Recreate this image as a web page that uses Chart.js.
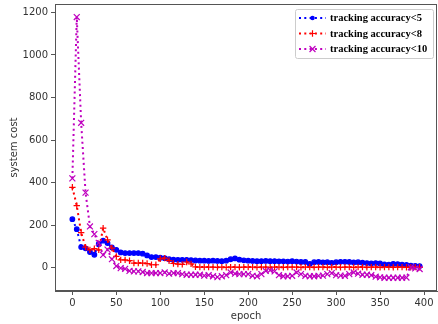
<!DOCTYPE html>
<html>
<head>
<meta charset="utf-8">
<script src="https://cdn.jsdelivr.net/npm/chart.js@4.4.1/dist/chart.umd.min.js"></script>
<style>
  html, body { margin: 0; padding: 0; background: #fff; overflow: hidden; }
  #chart { display: block; }
</style>
</head>
<body>
<canvas id="chart" width="438" height="324"></canvas>
<script>
const epochs = [
  0, 5, 10, 15, 20, 25, 30, 35, 40, 45,
  50, 55, 60, 65, 70, 75, 80, 85, 90, 95,
  100, 105, 110, 115, 120, 125, 130, 135, 140, 145,
  150, 155, 160, 165, 170, 175, 180, 185, 190, 195,
  200, 205, 210, 215, 220, 225, 230, 235, 240, 245,
  250, 255, 260, 265, 270, 275, 280, 285, 290, 295,
  300, 305, 310, 315, 320, 325, 330, 335, 340, 345,
  350, 355, 360, 365, 370, 375, 380, 385, 390, 395,
];

const acc5 = [
  228, 181, 97, 91, 74, 61, 112, 127, 116, 95,
  84, 72, 69, 69, 69, 69, 66, 58, 50, 50,
  47, 45, 40, 38, 37, 37, 37, 36, 34, 33,
  33, 32, 33, 32, 31, 33, 40, 44, 38, 35,
  33, 32, 31, 31, 32, 31, 31, 30, 30, 29,
  31, 29, 27, 27, 18, 26, 27, 25, 26, 23,
  26, 28, 28, 27, 25, 26, 24, 22, 20, 22,
  20, 16, 15, 18, 17, 15, 13, 10, 9, 8,
];

const acc8 = [
  378, 292, 165, 97, 84, 90, 84, 186, 131, 92,
  53, 37, 37, 33, 22, 22, 22, 20, 14, 14,
  42, 45, 33, 20, 17, 16, 27, 18, 4, 3,
  3, 3, 3, 2, 3, 2, 3, 3, 2, 3,
  3, 3, 2, 3, 3, 2, 3, 3, 2, 3,
  3, 3, 2, 3, 3, 2, 3, 3, 2, 3,
  3, 2, 3, 3, 2, 3, 3, 2, 3, 3,
  2, 3, 3, 2, 3, 3, 2, 3, 3, 2,
];

const acc10 = [
  420, 1178, 681, 353, 194, 158, 117, 60, 85, 40,
  8, -2, -5, -15, -17, -17, -20, -25, -25, -25,
  -25, -22, -28, -25, -25, -30, -33, -33, -33, -33,
  -37, -35, -40, -44, -40, -35, -22, -28, -30, -30,
  -30, -38, -40, -30, -15, -12, -17, -35, -40, -40,
  -38, -22, -30, -38, -40, -40, -38, -37, -30, -25,
  -35, -37, -38, -30, -22, -28, -33, -33, -35, -42,
  -45, -47, -47, -47, -47, -47, -46, 2, -3, -6,
];

const seriesLabels = ["tracking accuracy<5", "tracking accuracy<8", "tracking accuracy<10"];
const xTicks = [0, 50, 100, 150, 200, 250, 300, 350, 400];
const yTicks = [0, 200, 400, 600, 800, 1000, 1200];

const styles = [
  { color: "#0000ff", pointStyle: "circle", radius: 2.3 },
  { color: "#ff0000", pointStyle: "cross", radius: 3.2 },
  { color: "#bf00bf", pointStyle: "crossRot", radius: 4.2 },
];

function toPoints(values) {
  return epochs.map((e, i) => ({ x: e, y: values[i] }));
}

function makeDataset(label, values, style, order) {
  return {
    label,
    data: toPoints(values),
    borderColor: style.color,
    backgroundColor: style.color,
    borderWidth: 2,
    borderDash: [2, 3.3],
    tension: 0,
    pointStyle: style.pointStyle,
    pointRadius: style.radius,
    pointBorderWidth: 1.2,
    pointBorderColor: style.color,
    pointBackgroundColor: style.color,
    order,
  };
}

// frame around plot area + boxed legend, matplotlib style
const framePlugin = {
  id: "frame",
  afterDraw(chart) {
    const { ctx, chartArea: a } = chart;
    ctx.save();
    ctx.strokeStyle = "#555";
    ctx.lineWidth = 1;
    ctx.strokeRect(a.left + 0.5, a.top + 0.5, a.right - a.left - 1, a.bottom - a.top - 1);

    const bx = 295, by = 9, bw = 138, bh = 49;
    ctx.strokeStyle = "#cccccc";
    ctx.fillStyle = "rgba(255,255,255,0.85)";
    ctx.beginPath();
    ctx.roundRect(bx + 0.5, by + 0.5, bw, bh, 2);
    ctx.fill();
    ctx.stroke();

    ctx.font = "bold 10.5px 'Liberation Serif'";
    ctx.textBaseline = "middle";
    seriesLabels.forEach((label, i) => {
      const st = styles[i];
      const y = by + 9 + i * 15.5;
      ctx.strokeStyle = st.color;
      ctx.lineWidth = 2;
      ctx.setLineDash([2, 3.3]);
      ctx.beginPath();
      ctx.moveTo(299, y);
      ctx.lineTo(326, y);
      ctx.stroke();
      ctx.setLineDash([]);
      drawMarker(ctx, st, 312.5, y);
      ctx.fillStyle = "#000";
      ctx.fillText(label, 330, y + 0.5);
    });
    ctx.restore();
  },
};

function drawMarker(ctx, st, x, y) {
  ctx.lineWidth = 1.2;
  ctx.strokeStyle = st.color;
  ctx.fillStyle = st.color;
  const r = st.radius;
  ctx.beginPath();
  if (st.pointStyle === "circle") {
    ctx.arc(x, y, r, 0, Math.PI * 2);
    ctx.fill();
  } else if (st.pointStyle === "cross") {
    ctx.moveTo(x - r, y); ctx.lineTo(x + r, y);
    ctx.moveTo(x, y - r); ctx.lineTo(x, y + r);
    ctx.stroke();
  } else {
    const d = r * Math.SQRT1_2;
    ctx.moveTo(x - d, y - d); ctx.lineTo(x + d, y + d);
    ctx.moveTo(x - d, y + d); ctx.lineTo(x + d, y - d);
    ctx.stroke();
  }
}

function noPadding(scale) {
  scale.paddingLeft = 0;
  scale.paddingRight = 0;
  scale.paddingTop = 0;
  scale.paddingBottom = 0;
}

const tickFont = { family: "'DejaVu Sans'", size: 10 };

new Chart(document.getElementById("chart"), {
  type: "line",
  data: {
    datasets: [
      makeDataset(seriesLabels[0], acc5, styles[0], 2),
      makeDataset(seriesLabels[1], acc8, styles[1], 1),
      makeDataset(seriesLabels[2], acc10, styles[2], 0),
    ],
  },
  options: {
    responsive: false,
    animation: false,
    devicePixelRatio: 1,
    layout: { autoPadding: false, padding: { top: 4, right: 1, left: 0, bottom: 0 } },
    plugins: { legend: { display: false }, tooltip: { enabled: false } },
    scales: {
      x: {
        type: "linear",
        min: -19.75,
        max: 414.75,
        afterBuildTicks: (scale) => {
          scale.ticks = xTicks.map((v) => ({ value: v }));
        },
        afterFit: (scale) => {
          scale.height = 33;
          noPadding(scale);
        },
        grid: { drawOnChartArea: false, drawTicks: true, tickLength: 4, color: "#555" },
        border: { display: true, color: "#555" },
        ticks: { color: "#333", font: tickFont, padding: 2, maxRotation: 0, callback: (v) => String(v) },
        title: { display: true, text: "epoch", color: "#333", font: tickFont, padding: { top: 0, bottom: 2 } },
      },
      y: {
        type: "linear",
        min: -109.3,
        max: 1239.3,
        afterBuildTicks: (scale) => {
          scale.ticks = yTicks.map((v) => ({ value: v }));
        },
        afterFit: (scale) => {
          scale.width = 55;
          noPadding(scale);
        },
        grid: { drawOnChartArea: false, drawTicks: true, tickLength: 4, color: "#555" },
        border: { display: true, color: "#555" },
        ticks: { color: "#333", font: tickFont, padding: 3, callback: (v) => String(v) },
        title: { display: true, text: "system cost", color: "#333", font: tickFont, padding: { top: 8, bottom: 0 } },
      },
    },
  },
  plugins: [framePlugin],
});
</script>
</body>
</html>
